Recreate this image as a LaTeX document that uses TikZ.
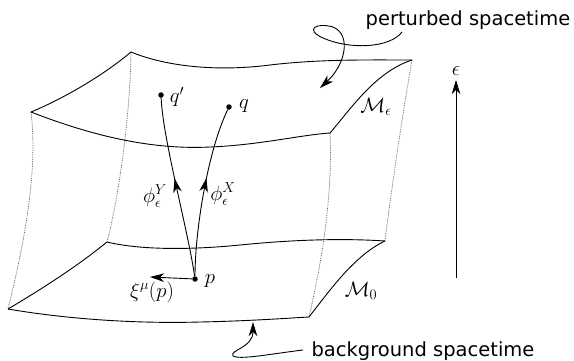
\documentclass[tikz,border=0pt]{standalone}
\usepackage{fontspec}
\newfontfamily\dejavu{DejaVu Sans}
\usetikzlibrary{arrows.meta,decorations.markings}
\begin{document}
\begin{tikzpicture}[x=1pt,y=-1pt,
  edge/.style={line width=0.9pt},
  hidden/.style={densely dotted, black!65, line width=0.75pt},
  dotnode/.style={circle,fill=black,inner sep=0pt,minimum size=5.5pt},
  lbl/.style={font=\fontsize{21}{24}\selectfont, inner sep=0pt},
  sanslbl/.style={font=\dejavu\fontsize{19.5}{23}\selectfont, inner sep=0pt},
  arrowtip/.style={-{Stealth[length=14pt,width=8.5pt,inset=4pt]}},
  midarrow/.style={postaction={decorate},decoration={markings,mark=at position #1 with {\arrow{Stealth[length=14pt,width=8.5pt,inset=4pt]}}}},
]
\useasboundingbox (0,0) rectangle (574,360);

% corners
\coordinate (A1) at (31,112);
\coordinate (B1) at (131,52);
\coordinate (C1) at (412,60);
\coordinate (D1) at (330,133);
\coordinate (A0) at (8,309);
\coordinate (B0) at (107,242);
\coordinate (C0) at (385,241);
\coordinate (D0) at (309,317);

% hidden vertical edges
\draw[hidden] (A1) .. controls (38,170) and (25,240) .. (A0);
\draw[hidden] (B1) .. controls (130,120) and (118,200) .. (B0);
\draw[hidden] (C1) .. controls (400,130) and (390,200) .. (C0);
\draw[hidden] (D1) .. controls (333,200) and (320,270) .. (D0);

% upper surface
\draw[edge] (A1) .. controls (60,100) and (100,78) .. (B1);
\draw[edge] (B1) .. controls (165,66) and (215,72) .. (270,65) .. controls (320,59) and (370,60) .. (C1);
\draw[edge] (A1) .. controls (90,135) and (150,150) .. (210,147) .. controls (260,145) and (300,135) .. (D1);
\draw[edge] (D1) .. controls (350,110) and (375,72) .. (C1);

% lower surface
\draw[edge] (A0) .. controls (40,290) and (75,268) .. (B0);
\draw[edge] (B0) .. controls (140,250) and (190,250) .. (240,245) .. controls (290,240) and (340,238) .. (C0);
\draw[edge] (A0) .. controls (60,318) and (130,324) .. (200,322) .. controls (250,321) and (290,318) .. (D0);
\draw[edge] (D0) .. controls (330,290) and (355,255) .. (C0);

% points
\node[dotnode] (p) at (195,279) {};
\node[dotnode] (q) at (229,107) {};
\node[dotnode] (qp) at (161,95) {};

% flows
\draw[edge, midarrow=0.55] (p) .. controls (188,230) and (163,140) .. (qp);
\draw[edge, midarrow=0.58] (p) .. controls (195,230) and (208,150) .. (q);

% vector
\coordinate (xi) at (150,277);
\draw[edge, arrowtip] (p) -- (xi);

% labels
\node[lbl] (lqp) at (177,97) {$q'$};
\node[lbl] (lq) at (244,106) {$q$};
\node[lbl] (lp) at (210,281) {$p$};
\node[lbl] (lxi) at (152,292) {$\xi^\mu(p)$};
\node[lbl] (lY) at (155,196) {$\phi^Y_\epsilon$};
\node[lbl] (lX) at (223,194) {$\phi^X_\epsilon$};
\node[lbl] (lMe) at (376,107) {$\mathcal{M}_\epsilon$};
\node[lbl] (lM0) at (361,291) {$\mathcal{M}_0$};

% epsilon axis
\coordinate (ebot) at (456,278);
\coordinate (etop) at (456,80);
\draw[edge, arrowtip] (ebot) -- (etop);
\node[lbl] (leps) at (456,71) {$\epsilon$};

% annotations
\node[sanslbl, anchor=base] (pert) at (468,25) {perturbed spacetime};
\node[sanslbl, anchor=base] (back) at (423,356) {background spacetime};

\coordinate (ps) at (402,32);
\coordinate (pe) at (320,88);
\draw[edge, arrowtip] (ps) .. controls (390,48) and (350,50) .. (323,38)
  .. controls (305,30) and (315,22) .. (333,27)
  .. controls (352,35) and (345,65) .. (pe);

\coordinate (bs) at (303,350);
\coordinate (be) at (253,322);
\draw[edge, arrowtip] (bs) .. controls (270,354) and (240,360) .. (233,356)
  .. controls (229,350) and (253,348) .. (be);
\end{tikzpicture}
\end{document}
